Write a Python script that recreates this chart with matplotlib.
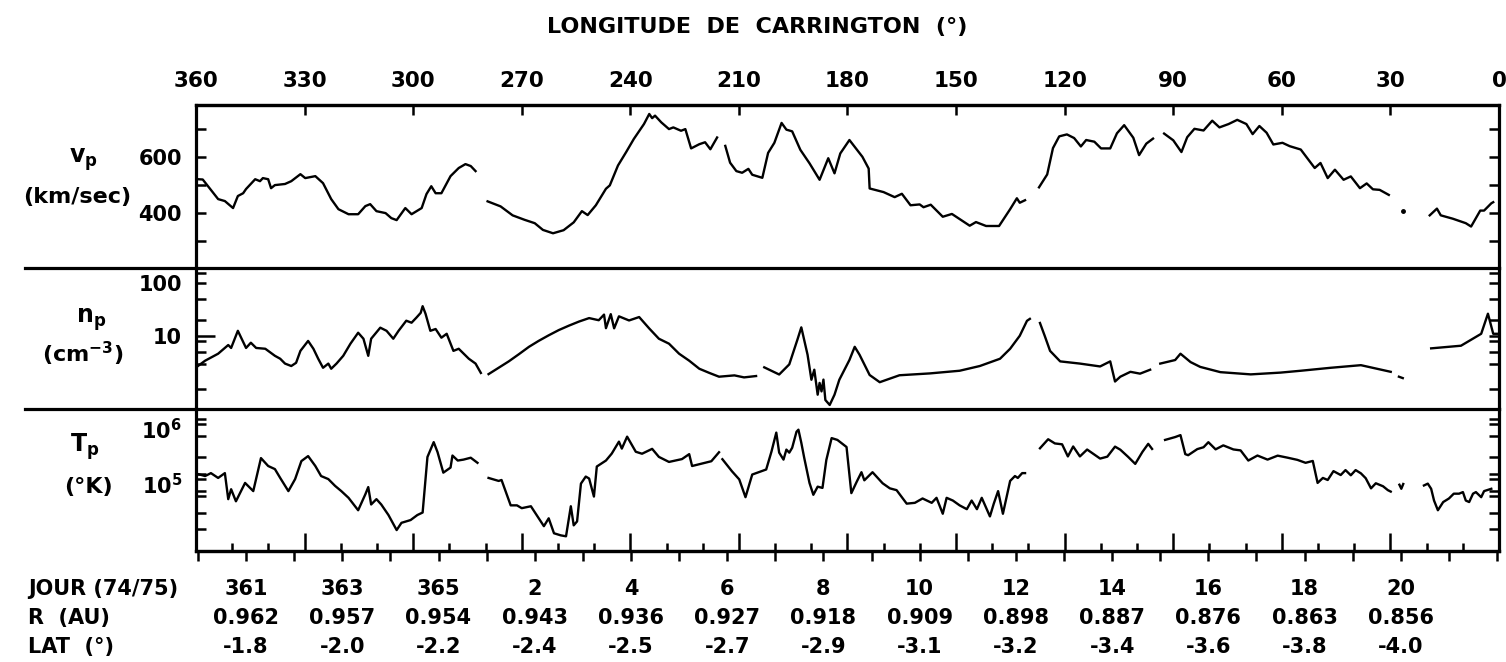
import numpy as np
import matplotlib
matplotlib.use("Agg")
import matplotlib.pyplot as plt
import matplotlib.transforms as mtransforms
from matplotlib.lines import Line2D
from matplotlib.ticker import FixedLocator, FixedFormatter, NullFormatter

plt.rcParams['font.family'] = ['DejaVu Sans']
plt.rcParams['font.weight'] = 'bold'
plt.rcParams['mathtext.default'] = 'bf'

nan = np.nan

# ---------------- data (day of year 1974, continuing past 365 into 1975) ----------------
V_DAY = [360.00, 360.10, 360.42, 360.56, 360.73, 360.83, 360.94, 361.00, 361.19, 361.29, 361.35, 361.46,
         361.52, 361.60, 361.81, 361.94, 362.13, 362.23, 362.44, 362.60, 362.77, 362.92, 363.13, 363.33,
         363.48, 363.58, 363.71, 363.90, 364.02, 364.13, 364.31, 364.44, 364.65, 364.75, 364.85, 364.94,
         365.06, 365.25, 365.42, 365.56, 365.67, 365.77, nan,
         366.02, 366.29, 366.54, 366.79, 367.00, 367.17, 367.38, 367.60, 367.81, 367.98, 368.10, 368.27,
         368.48, 368.56, 368.73, 368.90, 369.06, 369.27, 369.38, 369.44, 369.50, 369.63, 369.79, 369.88,
         370.04, 370.13, 370.25, 370.42, 370.54, 370.65, 370.79, nan,
         370.96, 371.06, 371.19, 371.31, 371.44, 371.52, 371.73, 371.85, 371.98, 372.13, 372.23, 372.35,
         372.52, 372.71, 372.92, 373.10, 373.23, 373.35, 373.54, 373.81, 373.94, 373.96, 374.25, 374.48,
         374.63, 374.81, 375.00, 375.08, 375.23, 375.48, 375.67, 376.04, 376.17, 376.38, 376.65, 376.88,
         377.02, 377.08, 377.19, nan,
         377.48, 377.65, 377.77, 377.90, 378.06, 378.21, 378.35, 378.46, 378.63, 378.77, 378.96, 379.10,
         379.25, 379.44, 379.56, 379.71, 379.85, nan,
         380.08, 380.27, 380.44, 380.56, 380.71, 380.90, 381.08, 381.23, 381.42, 381.60, 381.79, 381.92,
         382.06, 382.21, 382.35, 382.54, 382.69, 382.92, 383.21, 383.33, 383.48, 383.63, 383.81, 383.96,
         384.15, 384.29, 384.42, 384.56, 384.75, nan,
         385.60, 385.75, 385.83, 386.08, 386.35, 386.46, 386.65, 386.73, 386.88, 386.92]
V_KMS = [521, 520, 450, 443, 418, 461, 471, 486, 521, 514, 525, 521,
         489, 500, 504, 514, 539, 525, 532, 507, 450, 414, 396, 396,
         425, 432, 407, 400, 382, 375, 418, 396, 418, 468, 496, 471,
         471, 532, 561, 575, 568, 550, nan,
         442, 424, 392, 376, 364, 340, 328, 339, 367, 407, 393, 428,
         487, 499, 570, 618, 665, 718, 754, 739, 748, 724, 700, 706,
         694, 700, 631, 646, 653, 628, 670, nan,
         640, 580, 550, 544, 558, 537, 526, 615, 651, 722, 698, 692,
         626, 578, 519, 596, 542, 613, 661, 601, 559, 488, 475, 457,
         469, 428, 431, 421, 430, 387, 397, 355, 368, 354, 354, 414,
         453, 437, 446, nan,
         492, 538, 632, 674, 681, 668, 638, 661, 655, 631, 631, 685,
         714, 669, 607, 648, 666, nan,
         684, 660, 618, 671, 701, 695, 730, 706, 718, 733, 718, 682,
         711, 687, 645, 651, 639, 627, 561, 579, 525, 555, 519, 531,
         489, 506, 485, 483, 465, nan,
         392, 416, 392, 380, 364, 352, 409, 409, 435, 439]
V_DOT_DAY = [385.04]
V_DOT_KMS = [406]

N_DAY = [360.00, 360.15, 360.42, 360.63, 360.69, 360.83, 361.00, 361.10, 361.21, 361.40, 361.60, 361.71,
         361.81, 361.94, 362.04, 362.13, 362.29, 362.40, 362.50, 362.60, 362.71, 362.77, 362.88, 363.02,
         363.17, 363.33, 363.44, 363.54, 363.60, 363.79, 363.92, 364.06, 364.17, 364.33, 364.44, 364.54,
         364.63, 364.67, 364.73, 364.83, 364.94, 365.06, 365.17, 365.31, 365.42, 365.63, 365.77, 365.88, nan,
         366.04, 366.25, 366.46, 366.67, 366.88, 367.08, 367.29, 367.50, 367.71, 367.92, 368.13, 368.33,
         368.44, 368.48, 368.58, 368.65, 368.75, 368.96, 369.17, 369.38, 369.58, 369.79, 370.00, 370.21,
         370.42, 370.63, 370.83, 371.15, 371.35, 371.60, nan,
         371.77, 372.08, 372.29, 372.46, 372.54, 372.67, 372.75, 372.81, 372.88, 372.92, 372.96, 373.00,
         373.04, 373.13, 373.23, 373.33, 373.54, 373.65, 373.75, 373.96, 374.17, 374.58, 375.21, 375.83,
         376.25, 376.67, 376.88, 377.08, 377.23, 377.29, nan,
         377.50, 377.60, 377.71, 377.92, 378.33, 378.75, 378.96, 379.06, 379.17, 379.38, 379.58, 379.79, nan,
         380.00, 380.31, 380.42, 380.63, 380.83, 381.25, 381.88, 382.50, 382.92, 383.54, 384.17, 384.79, nan,
         384.96, 385.04, nan,
         385.63, 386.25, 386.67, 386.81, 386.92, 387.02]
N_CM3 = [2.7, 3.4, 4.6, 6.7, 5.9, 12.4, 5.9, 7.4, 5.9, 5.7, 4.2, 3.7,
         3.0, 2.7, 3.1, 5.2, 8.0, 5.7, 3.7, 2.5, 3.0, 2.4, 3.0, 4.2,
         7.1, 11.4, 8.8, 4.2, 8.8, 14.2, 12.4, 8.8, 12.4, 19.2, 17.6, 21.9,
         27, 36, 26, 12.4, 13.4, 9.2, 10.9, 5.2, 5.7, 3.7, 3.0, 2.0, nan,
         1.9, 2.5, 3.3, 4.5, 6.2, 8.0, 10.2, 12.8, 15.5, 18.5, 21.5, 19.6,
         25.0, 13.9, 25.5, 13.8, 23.2, 19.4, 22.5, 13.7, 8.8, 7.1, 4.6, 3.4,
         2.4, 2.0, 1.7, 1.8, 1.65, 1.75, nan,
         2.55, 1.87, 2.9, 8.5, 14.4, 4.4, 1.49, 2.3, 0.78, 1.3, 0.9, 1.5,
         0.62, 0.50, 0.78, 1.49, 3.5, 6.2, 4.4, 1.83, 1.34, 1.81, 1.96, 2.2,
         2.7, 3.7, 5.7, 10.0, 19.1, 20.8, nan,
         17.4, 9.9, 5.2, 3.3, 3.0, 2.65, 3.3, 1.38, 1.7, 2.1, 1.94, 2.3, nan,
         3.0, 3.5, 4.6, 3.2, 2.6, 2.07, 1.88, 2.03, 2.2, 2.5, 2.8, 2.1, nan,
         1.7, 1.6, nan,
         5.8, 6.5, 10.9, 26, 10.9, 10.9]

T_DAY = [360.00, 360.15, 360.27, 360.42, 360.56, 360.63, 360.69, 360.79, 360.98, 361.15, 361.31, 361.46,
         361.60, 361.71, 361.88, 362.02, 362.15, 362.29, 362.44, 362.56, 362.71, 362.85, 362.98, 363.13,
         363.33, 363.48, 363.54, 363.60, 363.71, 363.81, 363.96, 364.13, 364.23, 364.42, 364.56, 364.67,
         364.77, 364.90, 364.98, 365.10, 365.25, 365.29, 365.40, 365.52, 365.67, 365.81, nan,
         366.04, 366.25, 366.31, 366.50, 366.63, 366.73, 366.92, 367.08, 367.19, 367.29, 367.40, 367.54,
         367.65, 367.75, 367.81, 367.88, 367.96, 368.06, 368.13, 368.23, 368.29, 368.48, 368.60, 368.75,
         368.81, 368.92, 369.10, 369.23, 369.44, 369.58, 369.79, 370.06, 370.21, 370.27, 370.42, 370.67,
         370.83, nan,
         370.90, 371.10, 371.25, 371.38, 371.52, 371.81, 371.92, 372.02, 372.08, 372.17, 372.23, 372.29,
         372.35, 372.44, 372.48, 372.54, 372.60, 372.71, 372.79, 372.88, 372.98, 373.06, 373.17, 373.29,
         373.48, 373.58, 373.69, 373.79, 373.85, 374.02, 374.23, 374.38, 374.52, 374.73, 374.90, 375.06,
         375.25, 375.35, 375.48, 375.56, 375.69, 375.83, 375.98, 376.08, 376.19, 376.29, 376.46, 376.54,
         376.63, 376.73, 376.88, 376.98, 377.04, 377.13, 377.19, nan,
         377.50, 377.67, 377.81, 377.96, 378.08, 378.19, 378.33, 378.48, 378.60, 378.75, 378.90, 379.06,
         379.17, 379.33, 379.48, 379.63, 379.75, 379.83, nan,
         380.10, 380.31, 380.42, 380.52, 380.58, 380.77, 380.90, 381.00, 381.15, 381.31, 381.52, 381.67,
         381.83, 382.02, 382.23, 382.44, 382.65, 382.85, 383.02, 383.17, 383.27, 383.38, 383.48, 383.60,
         383.75, 383.85, 383.96, 384.06, 384.17, 384.27, 384.38, 384.48, 384.63, 384.73, 384.79, nan,
         384.97, 385.01, 385.05, nan,
         385.48, 385.56, 385.63, 385.69, 385.77, 385.88, 386.00, 386.10, 386.21, 386.29, 386.35, 386.42,
         386.50, 386.56, 386.67, 386.73, 386.88]
T_K = [1.00e5, 0.92e5, 1.04e5, 0.85e5, 1.04e5, 0.35e5, 0.53e5, 0.32e5, 0.69e5, 0.49e5, 1.95e5, 1.40e5,
       1.23e5, 0.85e5, 0.49e5, 0.81e5, 1.72e5, 2.12e5, 1.40e5, 0.92e5, 0.81e5, 0.61e5, 0.49e5, 0.37e5,
       0.22e5, 0.43e5, 0.58e5, 0.28e5, 0.35e5, 0.28e5, 0.18e5, 0.096e5, 0.13e5, 0.146e5, 0.18e5, 0.20e5,
       2.04e5, 3.8e5, 2.5e5, 1.06e5, 1.31e5, 2.17e5, 1.76e5, 1.83e5, 1.98e5, 1.6e5, nan,
       0.85e5, 0.75e5, 0.78e5, 0.27e5, 0.27e5, 0.24e5, 0.26e5, 0.158e5, 0.113e5, 0.157e5, 0.084e5, 0.077e5,
       0.074e5, 0.26e5, 0.117e5, 0.138e5, 0.67e5, 0.90e5, 0.83e5, 0.39e5, 1.37e5, 1.76e5, 2.35e5, 3.88e5,
       2.9e5, 4.78e5, 2.54e5, 2.34e5, 2.87e5, 2.05e5, 1.66e5, 1.87e5, 2.3e5, 1.4e5, 1.51e5, 1.71e5,
       2.49e5, nan,
       1.86e5, 1.12e5, 0.80e5, 0.38e5, 0.98e5, 1.21e5, 2.56e5, 5.66e5, 2.45e5, 1.83e5, 2.78e5, 2.45e5,
       3.0e5, 5.87e5, 6.4e5, 3.7e5, 1.98e5, 0.69e5, 0.42e5, 0.59e5, 0.56e5, 1.8e5, 4.5e5, 4.17e5,
       3.1e5, 0.45e5, 0.72e5, 1.08e5, 0.77e5, 1.08e5, 0.68e5, 0.55e5, 0.51e5, 0.29e5, 0.30e5, 0.36e5,
       0.30e5, 0.37e5, 0.19e5, 0.37e5, 0.33e5, 0.27e5, 0.23e5, 0.33e5, 0.23e5, 0.37e5, 0.17e5, 0.29e5,
       0.49e5, 0.19e5, 0.75e5, 0.92e5, 0.85e5, 1.04e5, 1.04e5, nan,
       2.94e5, 4.29e5, 3.6e5, 3.47e5, 2.09e5, 3.17e5, 2.09e5, 2.79e5, 2.36e5, 1.91e5, 2.07e5, 3.15e5,
       2.77e5, 2.06e5, 1.53e5, 2.53e5, 3.54e5, 2.86e5, nan,
       4.17e5, 4.7e5, 5.1e5, 2.3e5, 2.2e5, 2.84e5, 3.07e5, 3.79e5, 2.81e5, 3.32e5, 2.8e5, 2.69e5,
       1.76e5, 2.17e5, 1.83e5, 2.16e5, 1.98e5, 1.81e5, 1.6e5, 1.73e5, 0.69e5, 0.85e5, 0.78e5, 1.13e5,
       0.96e5, 1.18e5, 0.95e5, 1.18e5, 1.03e5, 0.84e5, 0.55e5, 0.68e5, 0.60e5, 0.51e5, 0.48e5, nan,
       0.64e5, 0.54e5, 0.66e5, nan,
       0.62e5, 0.67e5, 0.54e5, 0.33e5, 0.22e5, 0.31e5, 0.36e5, 0.44e5, 0.44e5, 0.47e5, 0.33e5, 0.31e5,
       0.44e5, 0.47e5, 0.38e5, 0.49e5, 0.54e5]

# axis annotations
DAY_RANGE = (359.96, 387.04)          # Carrington longitude 360 -> 0 over this span
DAY_TICKS = [361, 363, 365, 367, 369, 371, 373, 375, 377, 379, 381, 383, 385]
DAY_LABELS = ['361', '363', '365', '2', '4', '6', '8', '10', '12', '14', '16', '18', '20']
R_LABELS = ['0.962', '0.957', '0.954', '0.943', '0.936', '0.927', '0.918', '0.909', '0.898',
            '0.887', '0.876', '0.863', '0.856']
LAT_LABELS = ['-1.8', '-2.0', '-2.2', '-2.4', '-2.5', '-2.7', '-2.9', '-3.1', '-3.2', '-3.4',
              '-3.6', '-3.8', '-4.0']
LON_TICKS = [360, 330, 300, 270, 240, 210, 180, 150, 120, 90, 60, 30, 0]

V_LIM = (204, 786)
V_MAJOR = [400, 600]
V_MINOR = [300, 500, 700]
N_LIM = (0.42, 188)
N_MAJOR = [10, 100]
N_MINOR = [1, 3, 5, 8, 20, 50, 150]
T_LIM = (4.0e3, 1.52e6)
T_MAJOR = [1e5, 1e6]
T_MINOR = [1e4, 2e4, 4e4, 5e4, 8e4, 2e5, 5e5, 8e5]

# ---------------- layout ----------------
W, H = 1506, 662
fig = plt.figure(figsize=(W / 100, H / 100), dpi=100)
L, R = 196, 1499
Y_TOP, Y_S1, Y_S2, Y_BOT = 105, 268, 409, 551

def fr(x0, y0, x1, y1):
    return [x0 / W, 1 - y1 / H, (x1 - x0) / W, (y1 - y0) / H]

ax1 = fig.add_axes(fr(L, Y_TOP, R, Y_S1))
ax2 = fig.add_axes(fr(L, Y_S1, R, Y_S2))
ax3 = fig.add_axes(fr(L, Y_S2, R, Y_BOT))

SPW = 2.3
LW = 1.7
for ax in (ax1, ax2, ax3):
    ax.set_xlim(*DAY_RANGE)
    for s in ax.spines.values():
        s.set_linewidth(SPW)
    ax.tick_params(axis='y', which='both', direction='in', length=7.2, width=1.8,
                   left=True, right=True, labelsize=15, pad=10)
    ax.tick_params(axis='x', which='both', bottom=False, top=False, labelbottom=False)

ax1.spines['bottom'].set_visible(False)
ax2.spines['top'].set_visible(False)
ax2.spines['bottom'].set_visible(False)
ax3.spines['top'].set_visible(False)

# panel 1: velocity
ax1.plot(V_DAY, V_KMS, color='black', lw=LW)
ax1.plot(V_DOT_DAY, V_DOT_KMS, 'o', color='black', ms=2.5)
ax1.set_ylim(*V_LIM)
ax1.yaxis.set_major_locator(FixedLocator(V_MAJOR))
ax1.yaxis.set_minor_locator(FixedLocator(V_MINOR))
ax1.yaxis.set_minor_formatter(NullFormatter())

# panel 2: density
ax2.plot(N_DAY, N_CM3, color='black', lw=LW)
ax2.set_yscale('log')
ax2.set_ylim(*N_LIM)
ax2.yaxis.set_major_locator(FixedLocator(N_MAJOR))
ax2.yaxis.set_major_formatter(FixedFormatter(['10', '100']))
ax2.yaxis.set_minor_locator(FixedLocator(N_MINOR))
ax2.yaxis.set_minor_formatter(NullFormatter())

# panel 3: temperature
ax3.plot(T_DAY, T_K, color='black', lw=LW)
ax3.set_yscale('log')
ax3.set_ylim(*T_LIM)
ax3.yaxis.set_major_locator(FixedLocator(T_MAJOR))
ax3.yaxis.set_major_formatter(FixedFormatter(['$10^{5}$', '$10^{6}$']))
ax3.yaxis.set_minor_locator(FixedLocator(T_MINOR))
ax3.yaxis.set_minor_formatter(NullFormatter())
shift = mtransforms.ScaledTranslation(0, -0.10, fig.dpi_scale_trans)
for lab in ax3.get_yticklabels():
    lab.set_transform(lab.get_transform() + shift)

# longitude <-> day mapping
D0, D1 = DAY_RANGE
def day2lon(d):
    return 360.0 - (np.asarray(d) - D0) * 360.0 / (D1 - D0)
def lon2day(l):
    return D0 + (360.0 - np.asarray(l)) * (D1 - D0) / 360.0

top = ax1.secondary_xaxis('top', functions=(day2lon, lon2day))
top.set_xticks(LON_TICKS)
top.set_xticklabels([str(v) for v in LON_TICKS])
top.tick_params(direction='in', length=7.5, width=1.8, labelsize=15.5, pad=10)
top.spines['top'].set_linewidth(SPW)

# bottom: day ticks outward
ax3.set_xticks(np.arange(360, 388))
ax3.tick_params(axis='x', which='major', bottom=True, direction='out', length=7.2, width=1.8,
                labelbottom=False)
# bottom: longitude ticks inward
bot = ax3.secondary_xaxis('bottom', functions=(day2lon, lon2day))
bot.set_xticks(LON_TICKS[1:-1])
bot.set_xticks(np.arange(350, 0, -10), minor=True)
bot.tick_params(which='major', direction='in', length=13, width=1.8, labelbottom=False)
bot.tick_params(which='minor', direction='in', length=6, width=1.8)
bot.spines['bottom'].set_linewidth(SPW)

# bottom text rows
trans = mtransforms.blended_transform_factory(ax3.transData, ax3.transAxes)
ROW_DY = [38, 67, 96]
for d, a, b, c in zip(DAY_TICKS, DAY_LABELS, R_LABELS, LAT_LABELS):
    for txt, dy in zip((a, b, c), ROW_DY):
        ax3.text(d, 0, txt, transform=trans + mtransforms.ScaledTranslation(0, -dy / 100, fig.dpi_scale_trans),
                 ha='center', va='center', fontsize=15, clip_on=False)
for txt, dy in zip(('JOUR (74/75)', 'R  (AU)', 'LAT  (°)'), ROW_DY):
    fig.text(28 / W, 1 - (Y_BOT + dy) / H, txt, ha='left', va='center', fontsize=15)

# separators extending left
for ys in (Y_S1, Y_S2):
    fig.add_artist(Line2D([25 / W, R / W], [1 - ys / H] * 2, transform=fig.transFigure,
                          color='black', lw=SPW))

# panel labels
fig.text(83 / W, 1 - 160 / H, '$v_p$', ha='center', va='center', fontsize=17)
fig.text(77 / W, 1 - 197 / H, '(km/sec)', ha='center', va='center', fontsize=16)
fig.text(91 / W, 1 - 320 / H, '$n_p$', ha='center', va='center', fontsize=17)
fig.text(83 / W, 1 - 354 / H, '(cm$^{-3}$)', ha='center', va='center', fontsize=16)
fig.text(85 / W, 1 - 447 / H, '$T_p$', ha='center', va='center', fontsize=17)
fig.text(88 / W, 1 - 487 / H, '(°K)', ha='center', va='center', fontsize=16)

fig.text(0.503, 1 - 27 / H, 'LONGITUDE  DE  CARRINGTON  (°)', ha='center', va='center', fontsize=16)

# longer tick at 10 in density panel
for tk, val in zip(ax2.yaxis.get_major_ticks(), N_MAJOR):
    if val == 10:
        tk.tick1line.set_markersize(14)

fig.savefig('out.png', dpi=100)
